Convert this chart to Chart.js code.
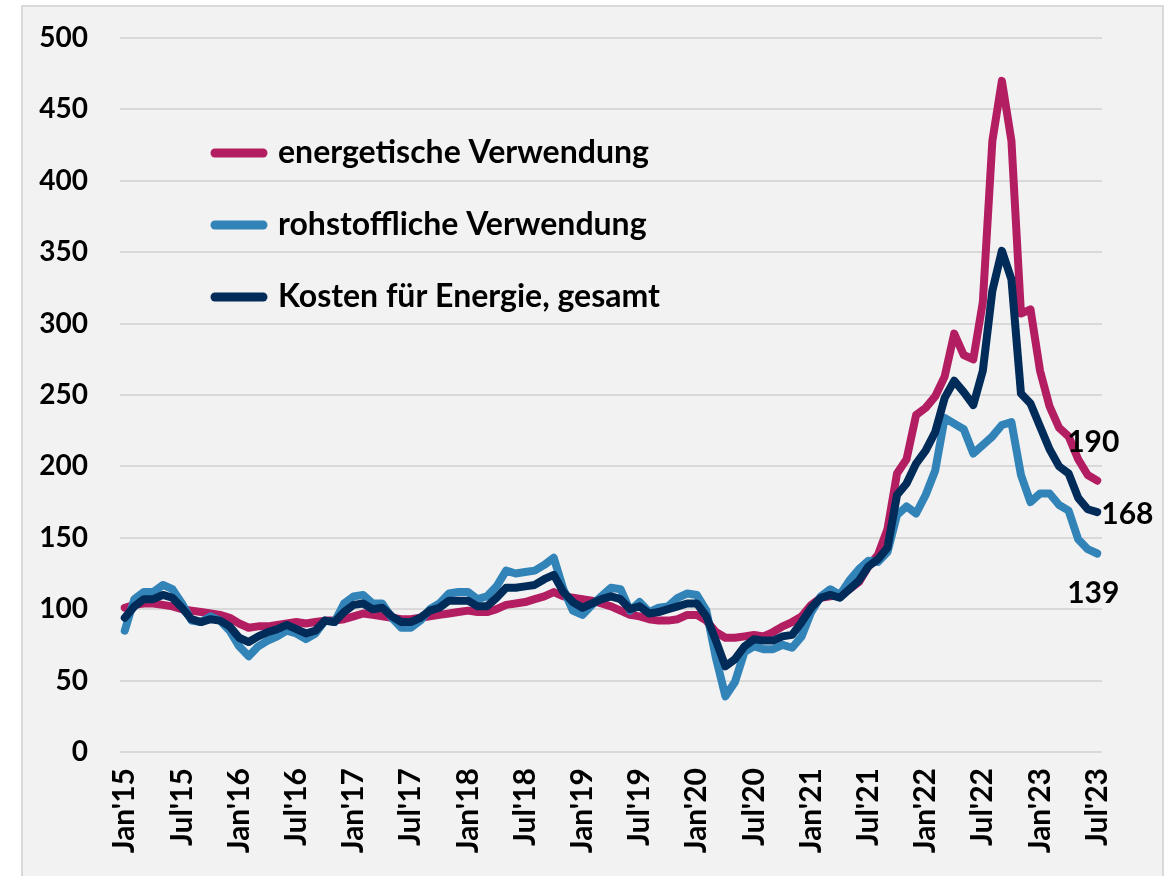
<!DOCTYPE html>
<html lang="de">
<head>
<meta charset="utf-8">
<title>Kosten für Energie</title>
<script src="https://cdn.jsdelivr.net/npm/chart.js@4.4.0/dist/chart.umd.min.js"></script>
<style>
  html, body { margin: 0; padding: 0; background: #fff; overflow: hidden; }
  #frame { position: absolute; left: 21px; top: 5px; width: 1139px; height: 900px; background: #f2f2f2; border: 2px solid #d9d9d9; }
  #chart { position: absolute; left: 0; top: 0; }
</style>
</head>
<body>
<div id="frame"></div>
<canvas id="chart" width="1168" height="876"></canvas>
<script>
// Monatswerte Jan'15 bis Jul'23
const monthNames = ['Jan', 'Feb', 'Mrz', 'Apr', 'Mai', 'Jun', 'Jul', 'Aug', 'Sep', 'Okt', 'Nov', 'Dez'];
const years = ['15', '16', '17', '18', '19', '20', '21', '22', '23'];
const shownTicks = ["Jan'15", "Jul'15", "Jan'16", "Jul'16", "Jan'17", "Jul'17", "Jan'18", "Jul'18",
  "Jan'19", "Jul'19", "Jan'20", "Jul'20", "Jan'21", "Jul'21", "Jan'22", "Jul'22", "Jan'23", "Jul'23"];

const energetisch = [
  101, 103, 104, 104, 103, 102, 100, 99, 98, 97, 96, 94,
  90, 87, 88, 88, 89, 90, 91, 90, 91, 92, 92, 93,
  95, 97, 96, 95, 94, 93, 93, 94, 95, 96, 97, 98,
  99, 98, 98, 100, 103, 104, 105, 107, 109, 112, 109, 108,
  107, 106, 104, 102, 99, 96, 95, 93, 92, 92, 93, 96,
  96, 92, 84, 80, 80, 81, 82, 81, 84, 88, 91, 95,
  103, 108, 109, 110, 114, 119, 130, 138, 156, 195, 205, 236,
  241, 249, 263, 293, 278, 275, 315, 428, 470, 428, 307, 310,
  267, 242, 227, 221, 205, 194, 190
];
const rohstofflich = [
  85, 107, 112, 112, 117, 114, 104, 92, 91, 95, 92, 85,
  74, 67, 74, 78, 81, 85, 83, 79, 83, 92, 91, 104,
  109, 110, 104, 104, 94, 87, 87, 92, 100, 104, 111, 112,
  112, 107, 109, 116, 127, 125, 126, 127, 131, 136, 114, 99,
  96, 103, 109, 115, 114, 99, 105, 98, 101, 102, 108, 111,
  110, 99, 66, 39, 49, 70, 74, 72, 72, 75, 73, 81,
  98, 109, 114, 110, 120, 128, 134, 133, 140, 166, 172, 167,
  180, 197, 234, 230, 226, 209, 215, 221, 229, 231, 194, 175,
  181, 181, 173, 169, 149, 142, 139
];
const gesamt = [
  94, 102, 107, 107, 110, 108, 101, 93, 91, 93, 92, 88,
  80, 77, 81, 84, 86, 89, 86, 83, 85, 92, 91, 98,
  103, 104, 100, 101, 95, 91, 91, 94, 99, 101, 106, 106,
  106, 102, 102, 108, 115, 115, 116, 117, 121, 124, 112, 105,
  101, 104, 107, 109, 107, 100, 102, 97, 98, 100, 102, 104,
  104, 95, 78, 60, 65, 74, 79, 78, 78, 81, 82, 91,
  101, 108, 110, 108, 114, 120, 130, 135, 143, 180, 188, 202,
  211, 224, 248, 260, 252, 243, 267, 323, 351, 331, 251, 244,
  228, 212, 200, 195, 178, 170, 168
];

const months = [];
years.forEach(y => monthNames.forEach(m => months.push(m + "'" + y)));
months.length = energetisch.length;

const FONT = 'Lato, "Noto Sans", sans-serif';

// Legende im Diagramm und Endwerte an den Linien
const overlay = {
  id: 'overlay',
  afterDraw(chart) {
    const ctx = chart.ctx;
    ctx.save();
    ctx.textBaseline = 'middle';
    ctx.lineCap = 'round';
    ctx.lineWidth = 9;
    ctx.font = 'bold 32px ' + FONT;
    chart.data.datasets.forEach((ds, i) => {
      const y = 153 + i * 72;
      ctx.strokeStyle = ds.borderColor;
      ctx.beginPath();
      ctx.moveTo(215, y);
      ctx.lineTo(263, y);
      ctx.stroke();
      ctx.fillStyle = '#000';
      ctx.textAlign = 'left';
      ctx.fillText(ds.label, 278, y);
    });

    const xs = chart.scales.x, ys = chart.scales.y;
    ctx.font = 'bold 30px ' + FONT;
    chart.data.datasets.forEach((ds) => {
      const last = ds.data.length - 1;
      const x = xs.getPixelForValue(last);
      const y = ys.getPixelForValue(ds.data[last]);
      const [dx, dy, align] = ds.endLabel;
      ctx.textAlign = align;
      ctx.fillStyle = '#000';
      ctx.fillText(String(ds.data[last]), x + dx, y + dy);
    });
    ctx.restore();
  }
};

new Chart(document.getElementById('chart'), {
  type: 'line',
  data: {
    labels: months,
    datasets: [
      { label: 'energetische Verwendung', data: energetisch, borderColor: '#b31e62', order: 2, endLabel: [-4, -38, 'center'] },
      { label: 'rohstoffliche Verwendung', data: rohstofflich, borderColor: '#3283b8', order: 1, endLabel: [-4, 40, 'center'] },
      { label: 'Kosten für Energie, gesamt', data: gesamt, borderColor: '#012b58', order: 0, endLabel: [4, 2, 'left'] }
    ]
  },
  options: {
    responsive: false,
    animation: false,
    layout: { padding: { top: 38, right: 66, bottom: 0, left: 0 } },
    elements: {
      line: { borderWidth: 8, borderJoinStyle: 'round', borderCapStyle: 'round', tension: 0 },
      point: { radius: 0 }
    },
    plugins: {
      legend: { display: false },
      tooltip: { enabled: false }
    },
    scales: {
      x: {
        offset: true,
        grid: { display: false },
        border: { display: false },
        afterFit: (scale) => { scale.height = 124; },
        ticks: {
          autoSkip: false,
          minRotation: 90,
          maxRotation: 90,
          padding: 8,
          color: '#000',
          font: { family: FONT, size: 30, weight: 'bold' },
          callback: (val, i) => shownTicks.includes(months[i]) ? months[i] : null
        }
      },
      y: {
        min: 0,
        max: 500,
        afterFit: (scale) => {
          scale.width = 120;
          // Abstand der Beschriftung nicht in die Höhe der Zeichenfläche einrechnen
          scale.paddingTop = 0;
          scale.paddingBottom = 0;
        },
        grid: { color: '#d9d9d9', lineWidth: 2, drawTicks: false },
        border: { display: false },
        ticks: {
          stepSize: 50,
          padding: 32,
          color: '#000',
          font: { family: FONT, size: 28, weight: 'bold' }
        }
      }
    }
  },
  plugins: [overlay]
});
</script>
</body>
</html>
